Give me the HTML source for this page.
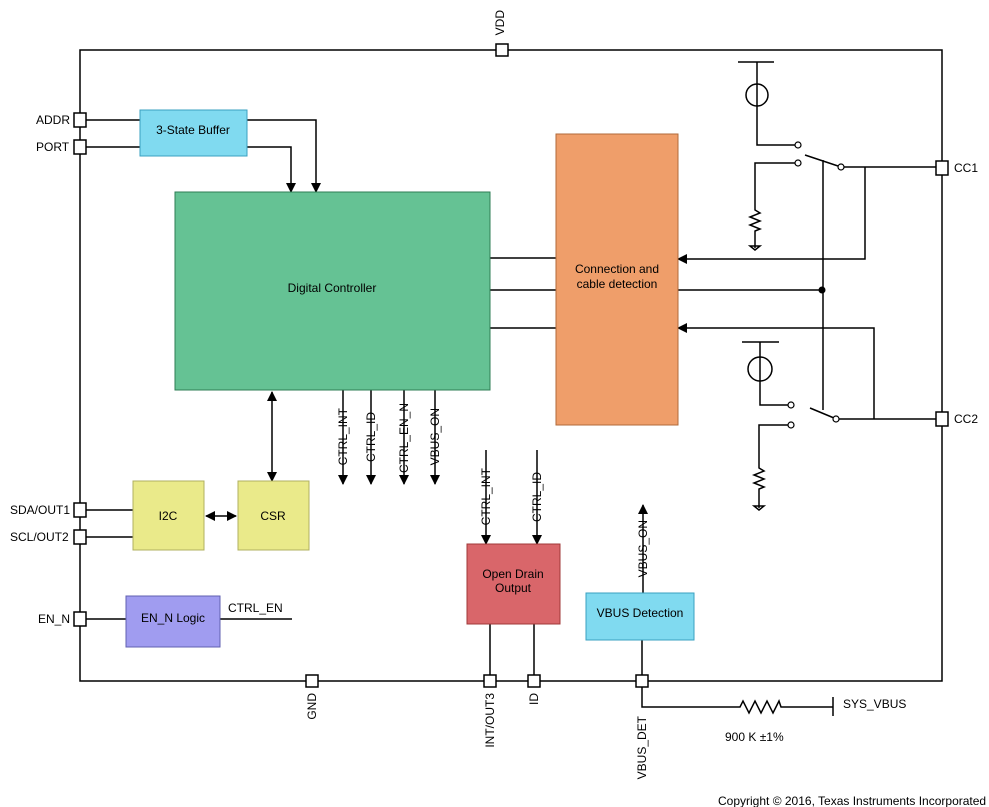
<!DOCTYPE html>
<html><head><meta charset="utf-8"><style>body{margin:0;background:#fff}svg{display:block}text{font-family:"Liberation Sans",sans-serif;font-size:12px;fill:#000}</style></head><body>
<svg width="989" height="807" viewBox="0 0 989 807" xmlns="http://www.w3.org/2000/svg">
<defs><marker id="a" markerWidth="10" markerHeight="10" refX="9" refY="5" orient="auto" markerUnits="userSpaceOnUse"><path d="M0,0 L10,5 L0,10z" fill="#000"/></marker>
<marker id="b" markerWidth="10" markerHeight="10" refX="1" refY="5" orient="auto" markerUnits="userSpaceOnUse"><path d="M10,0 L0,5 L10,10z" fill="#000"/></marker></defs>
<g stroke="#000" stroke-width="1.5" fill="none">
<rect x="80" y="50" width="862" height="631"/>
<path d="M86 120H140M86 147H140"/>
<path d="M247 120H316V192" marker-end="url(#a)"/>
<path d="M247 147H291V192" marker-end="url(#a)"/>
<path d="M490 258H556M490 290H556M490 328H556"/>
<path d="M865 167V259H678" marker-end="url(#a)"/>
<path d="M678 290H822"/>
<path d="M874 419V328H678" marker-end="url(#a)"/>
<path d="M738 62H774M757 62V145H795M795 163H755V210l5 3-10 4 10 4-10 4 10 4-5 2V248"/>
<path d="M750 246h10l-5 4z"/>
<circle cx="757" cy="95" r="11"/>
<path d="M805 155L838 166M843 167H936M823 160V410"/>
<path d="M742 342H779M760 342V405H788M788 425H759V468l5 3-10 4 10 4-10 4 10 4-5 2V508"/>
<path d="M754 506h10l-5 4z"/>
<circle cx="760" cy="369" r="12"/>
<path d="M810 408L834 418M839 419H936"/>
<path d="M133 516H204"/>
<path d="M206 516H236" marker-start="url(#b)" marker-end="url(#a)"/>
<path d="M272 392V481" marker-start="url(#b)" marker-end="url(#a)"/>
<path d="M86 510H133M86 537H133M86 619H126M220 619H292"/>
<path d="M343 390V484" marker-end="url(#a)"/>
<path d="M371 390V484" marker-end="url(#a)"/>
<path d="M404 390V484" marker-end="url(#a)"/>
<path d="M435 390V484" marker-end="url(#a)"/>
<path d="M486 450V544" marker-end="url(#a)"/>
<path d="M537 450V544" marker-end="url(#a)"/>
<path d="M490 624V675M534 624V675"/>
<path d="M643 593V505" marker-end="url(#a)"/>
<path d="M642 640V675M642 687V707H740l3 -6 6 12 6 -12 6 12 6 -12 6 12 6-12 2 6H833M833 697V716"/>
</g>
<g fill="#fff" stroke="#000" stroke-width="1.2">
<circle cx="798" cy="145" r="3"/><circle cx="798" cy="163" r="3"/><circle cx="841" cy="167" r="3"/>
<circle cx="791" cy="405" r="3"/><circle cx="791" cy="425" r="3"/><circle cx="836" cy="419" r="3"/>
</g>
<circle cx="822" cy="290" r="3.5" fill="#000"/>
<g fill="#fff" stroke="#000" stroke-width="1.5">
<rect x="496" y="44" width="12" height="12"/><rect x="74" y="113" width="12" height="14"/><rect x="74" y="140" width="12" height="14"/>
<rect x="936" y="161" width="12" height="14"/><rect x="936" y="412" width="12" height="14"/>
<rect x="74" y="503" width="12" height="14"/><rect x="74" y="530" width="12" height="14"/><rect x="74" y="612" width="12" height="14"/>
<rect x="306" y="675" width="12" height="12"/><rect x="484" y="675" width="12" height="12"/><rect x="528" y="675" width="12" height="12"/><rect x="636" y="675" width="12" height="12"/>
</g>
<rect x="140" y="110" width="107" height="46" fill="#80daf0" stroke="#3aa0c0"/>
<rect x="175" y="192" width="315" height="198" fill="#65c294" stroke="#2e7d55"/>
<rect x="556" y="134" width="122" height="291" fill="#ef9e6a" stroke="#b06a3a"/>
<rect x="133" y="481" width="71" height="69" fill="#eaea8a" stroke="#b0b060"/>
<rect x="238" y="481" width="71" height="69" fill="#eaea8a" stroke="#b0b060"/>
<rect x="126" y="596" width="94" height="51" fill="#a09cf0" stroke="#6060b0"/>
<rect x="467" y="544" width="93" height="80" fill="#d9666a" stroke="#a03838"/>
<rect x="586" y="593" width="108" height="47" fill="#80daf0" stroke="#3aa0c0"/>
<g text-anchor="middle">
<text x="193" y="134">3-State Buffer</text>
<text x="332" y="292">Digital Controller</text>
<text x="617" y="273">Connection and</text><text x="617" y="288">cable detection</text>
<text x="168" y="520">I2C</text><text x="273" y="520">CSR</text>
<text x="173" y="622">EN_N Logic</text>
<text x="513" y="578">Open Drain</text><text x="513" y="592">Output</text>
<text x="640" y="617">VBUS Detection</text>
</g>
<text x="36" y="124">ADDR</text><text x="36" y="151">PORT</text>
<text x="954" y="172">CC1</text><text x="954" y="423">CC2</text>
<text x="10" y="514">SDA/OUT1</text><text x="10" y="541">SCL/OUT2</text><text x="38" y="623">EN_N</text>
<text x="228" y="612">CTRL_EN</text>
<text x="843" y="708">SYS_VBUS</text>
<text x="725" y="741">900 K  ±1%</text>
<text x="718" y="805">Copyright © 2016, Texas Instruments Incorporated</text>
<g text-anchor="end">
<text transform="translate(504,10) rotate(-90)" text-anchor="end">VDD</text>
<text transform="translate(347,408) rotate(-90)" text-anchor="end">CTRL_INT</text>
<text transform="translate(375,412) rotate(-90)" text-anchor="end">CTRL_ID</text>
<text transform="translate(408,403) rotate(-90)" text-anchor="end">CTRL_EN_N</text>
<text transform="translate(439,408) rotate(-90)" text-anchor="end">VBUS_ON</text>
<text transform="translate(490,468) rotate(-90)" text-anchor="end">CTRL_INT</text>
<text transform="translate(541,472) rotate(-90)" text-anchor="end">CTRL_ID</text>
<text transform="translate(647,520) rotate(-90)" text-anchor="end">VBUS_ON</text>
<text transform="translate(316,693) rotate(-90)">GND</text>
<text transform="translate(494,693) rotate(-90)">INT/OUT3</text>
<text transform="translate(538,693) rotate(-90)">ID</text>
<text transform="translate(646,716) rotate(-90)">VBUS_DET</text>
</g>
</svg>
</body></html>
